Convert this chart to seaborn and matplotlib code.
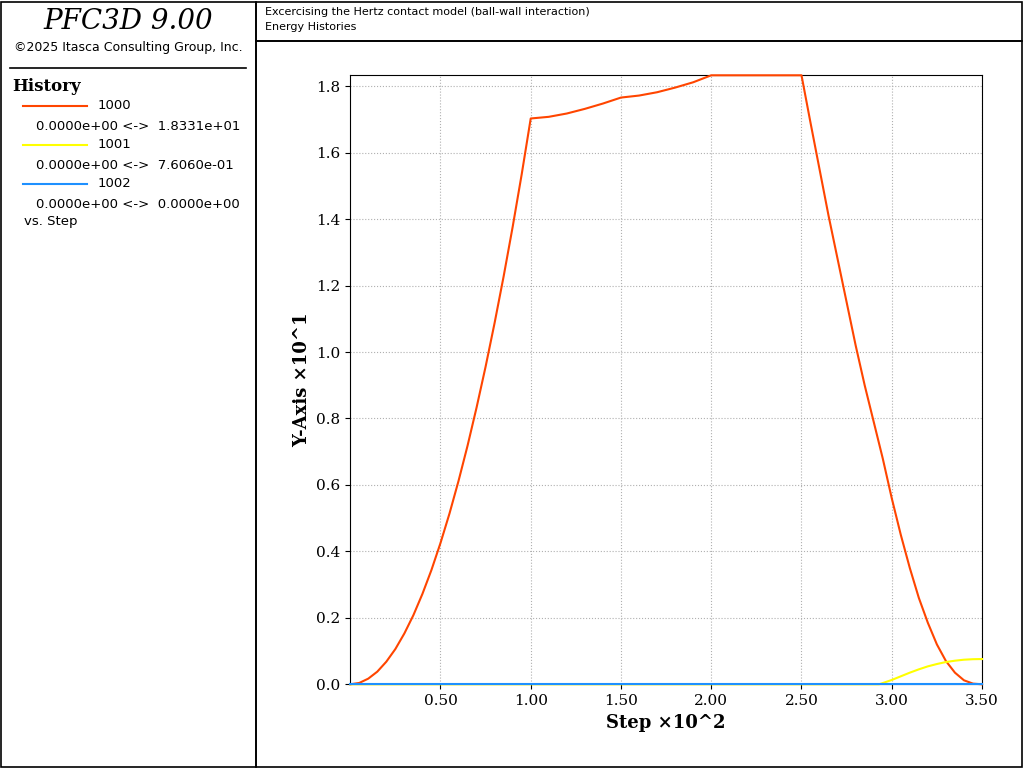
import matplotlib
matplotlib.use("Agg")
import matplotlib.pyplot as plt
import seaborn as sns
import pandas as pd

# history values (step, value)
steps_1000 = [0, 5, 10, 15, 20, 25, 30, 35, 40, 45, 50, 55, 60, 65, 70, 75, 80, 85, 90, 95, 100,
              110, 120, 130, 140, 150, 160, 170, 180, 190, 200, 250,
              255, 260, 265, 270, 275, 280, 285, 290, 295, 300, 305, 310, 315, 320, 325, 330, 335, 340, 345, 350]
vals_1000 = [0.0, 0.04, 0.17, 0.38, 0.68, 1.06, 1.53, 2.08, 2.72, 3.44, 4.25, 5.14, 6.12, 7.18, 8.33, 9.56,
             10.88, 12.28, 13.77, 15.35, 17.03,
             17.08, 17.18, 17.32, 17.48, 17.66, 17.72, 17.82, 17.96, 18.12, 18.33, 18.33,
             16.9, 15.5, 14.1, 12.8, 11.5, 10.2, 9.0, 7.9, 6.8, 5.6, 4.5, 3.5, 2.6, 1.85, 1.2, 0.7, 0.35, 0.12, 0.02, 0.0]
steps_1001 = [0, 293, 300, 305, 310, 315, 320, 325, 330, 335, 340, 345, 350]
vals_1001 = [0.0, 0.0, 0.13, 0.24, 0.35, 0.45, 0.54, 0.61, 0.67, 0.71, 0.74, 0.755, 0.76]
steps_1002 = [0, 350]
vals_1002 = [0.0, 0.0]

fig = plt.figure(figsize=(10.24, 7.68), dpi=100)

# frames
fig.add_artist(plt.Rectangle((0.001, 0.001), 0.249, 0.997, fill=False, lw=1.2, transform=fig.transFigure))
fig.add_artist(plt.Rectangle((0.25, 0.947), 0.748, 0.051, fill=False, lw=1.2, transform=fig.transFigure))
fig.add_artist(plt.Rectangle((0.25, 0.001), 0.748, 0.946, fill=False, lw=1.2, transform=fig.transFigure))

fig.text(0.125, 0.972, "PFC3D 9.00", ha="center", va="center", fontsize=20, family="DejaVu Serif", style="italic")
fig.text(0.125, 0.938, "©2025 Itasca Consulting Group, Inc.", ha="center", va="center", fontsize=9)
fig.add_artist(plt.Line2D([0.01, 0.24], [0.912, 0.912], color="black", lw=1.2))
fig.text(0.012, 0.888, "History", fontsize=12, weight="bold", family="DejaVu Serif", va="center")
legend_rows = [("1000", "#ff4500", "0.0000e+00 <->  1.8331e+01"),
               ("1001", "#ffff00", "0.0000e+00 <->  7.6060e-01"),
               ("1002", "#1e90ff", "0.0000e+00 <->  0.0000e+00")]
for i, (name, col, rng) in enumerate(legend_rows):
    y = 0.862 - i * 0.0505
    fig.add_artist(plt.Line2D([0.022, 0.085], [y, y], color=col, lw=1.5))
    fig.text(0.095, y, name, fontsize=9.5, va="center")
    fig.text(0.035, y - 0.027, rng, fontsize=9.5, va="center")
fig.text(0.023, 0.711, "vs. Step", fontsize=9.5, va="center")

fig.text(0.259, 0.985, "Excercising the Hertz contact model (ball-wall interaction)", fontsize=8, va="center")
fig.text(0.259, 0.965, "Energy Histories", fontsize=8, va="center")

ax = fig.add_axes([0.342, 0.109, 0.617, 0.793])
series = [(steps_1000, vals_1000, "#ff4500"), (steps_1001, vals_1001, "#ffff00"), (steps_1002, vals_1002, "#1e90ff")]
for s, v, c in series:
    df = pd.DataFrame({"x": [a / 100 for a in s], "y": [b / 10 for b in v]})
    sns.lineplot(data=df, x="x", y="y", color=c, lw=1.5, ax=ax, clip_on=False, zorder=3)

ax.set_xlim(0, 3.5)
ax.set_ylim(0, 1.8331)
ax.set_xticks([0.5, 1.0, 1.5, 2.0, 2.5, 3.0, 3.5])
ax.set_xticklabels(["0.50", "1.00", "1.50", "2.00", "2.50", "3.00", "3.50"])
ax.set_yticks([i * 0.2 for i in range(10)])
ax.set_yticklabels([f"{i * 0.2:.1f}" for i in range(10)])
ax.grid(True, ls=":", color="#b0b0b0", lw=0.8)
for lab in ax.get_xticklabels() + ax.get_yticklabels():
    lab.set_family("DejaVu Serif")
    lab.set_fontsize(11)
ax.set_xlabel("Step ×10^2", fontsize=13, weight="bold", family="DejaVu Serif")
ax.set_ylabel("Y-Axis ×10^1", fontsize=13, weight="bold", family="DejaVu Serif")

fig.savefig("out.png", dpi=100)
